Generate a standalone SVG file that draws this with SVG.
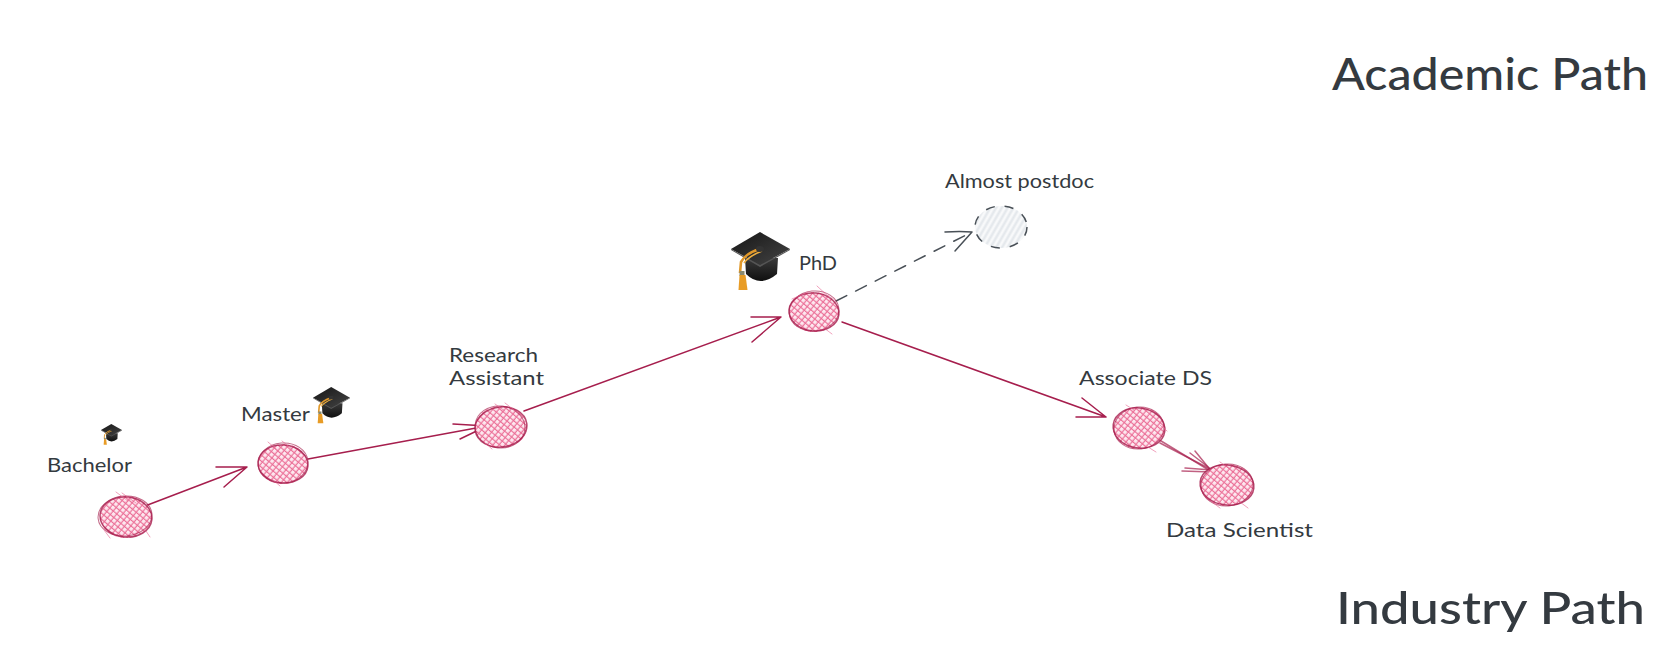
<svg xmlns="http://www.w3.org/2000/svg" width="1678" height="658" viewBox="0 0 1678 658">
<style>
text{font-family:"Lato","Noto Sans",sans-serif;fill:#343a40}
.title{font-size:44px;font-weight:500}
.label{font-size:19px}
.fill{fill:url(#hatch)}
.out{fill:none;stroke:#a61e4d;stroke-width:1.5;opacity:.8}
.out2{fill:none;stroke:#a61e4d;stroke-width:1;opacity:.65}
.over{fill:none;stroke:#e8638f;stroke-width:1;opacity:.6;stroke-linecap:round}
.a{fill:none;stroke:#a61e4d;stroke-width:1.5;stroke-linecap:round;stroke-linejoin:round}
.d{fill:none;stroke:#495057;stroke-width:1.5;stroke-linecap:round;stroke-linejoin:round}
</style>
<defs>
<pattern id="hatch" width="4.6" height="4.6" patternUnits="userSpaceOnUse" patternTransform="rotate(40)">
<rect width="4.6" height="4.6" fill="#fde8ef"/>
<path d="M0 1.2H4.6M1.2 0V4.6" stroke="#e64f80" stroke-width="1.15" fill="none" opacity=".8"/>
</pattern>
<pattern id="hatchGrey" width="5" height="5" patternUnits="userSpaceOnUse" patternTransform="rotate(-60)">
<rect width="5" height="5" fill="#f8f9fa"/>
<path d="M0 1.5H5" stroke="#e3e7eb" stroke-width="2.2" fill="none"/>
</pattern>
<linearGradient id="capTop" x1="0" y1="0" x2="1" y2="1">
<stop offset="0" stop-color="#161616"/><stop offset="1" stop-color="#444"/>
</linearGradient>
<linearGradient id="capBase" x1="0" y1="0" x2="0" y2="1">
<stop offset="0" stop-color="#3a3a3a"/><stop offset="1" stop-color="#0f0f0f"/>
</linearGradient>
<g id="hat">
<path d="M14 26L15 42Q29 56 46 42L47 26Z" fill="url(#capBase)"/>
<path d="M0 17L29 0L59 17L29 33Z" fill="url(#capTop)"/>
<path d="M0 17L29 33L59 17L59 18L29 35L0 18Z" fill="#555"/>
<path d="M29 17Q15 21 10 30L9 41" fill="none" stroke="#e0982a" stroke-width="2.6"/>
<path d="M31 19Q18 24 13 31" fill="none" stroke="#f0b040" stroke-width="1.6"/>
<ellipse cx="29" cy="17" rx="4" ry="3" fill="#333"/>
<rect x="8.500" y="39" width="5" height="5" fill="#8a8a70"/>
<path d="M8.500 43H14.500L16.500 58H7.500Z" fill="#e89c26"/>
</g>
</defs>

<g id="connectors">
<path class="a" d="M145 506L247 467M216 467L247 467L224 487"/>
<path class="a" d="M308 459L487 426M453 424L487 426L460 439"/>
<path class="a" d="M524 411L781 317M751 317L781 317L752 342"/>
<path class="d" stroke-dasharray="12 10" d="M836 301L972 232"/>
<path class="d" d="M945 232Q960 231 972 232L955 251"/>
<path class="a" d="M842 322L1106 417M1082 398L1106 417L1076 417"/>
<path class="a" opacity=".7" d="M1148 433L1212 472M1195 451L1212 472L1182 471"/>
<path class="a" opacity=".7" d="M1160 443L1212 470M1190 453L1212 470L1185 468"/>
</g>

<g id="node-bachelor">
<ellipse class="fill" cx="126" cy="517" rx="26" ry="21"/>
<ellipse class="out" cx="126" cy="517" rx="26" ry="20" transform="rotate(6 126 517)"/>
<ellipse class="out2" cx="125" cy="516" rx="27" ry="20" transform="rotate(-5 125 516)"/>
<path class="over" d="M116 492L128 501M122 493L136 503M146 531L150 537M104 530L110 538"/>
<use href="#hat" transform="translate(101 424) scale(.356)"/>
<text class="label" x="47" y="472" textLength="85" lengthAdjust="spacingAndGlyphs">Bachelor</text>
</g>
<g id="node-master">
<ellipse class="fill" cx="283" cy="464" rx="25" ry="20"/>
<ellipse class="out" cx="283" cy="464" rx="25" ry="19" transform="rotate(5 283 464)"/>
<ellipse class="out2" cx="283" cy="463" rx="25" ry="20" transform="rotate(-5 283 463)"/>
<path class="over" d="M268 442L276 449M282 441L292 449M272 479L280 486"/>
<use href="#hat" transform="translate(313 387) scale(.627)"/>
<text class="label" x="241" y="421" textLength="69" lengthAdjust="spacingAndGlyphs">Master</text>
</g>
<g id="node-research-assistant">
<ellipse class="fill" cx="501" cy="427" rx="26" ry="21"/>
<ellipse class="out" cx="501" cy="427" rx="26" ry="20" transform="rotate(-8 501 427)"/>
<ellipse class="out2" cx="500" cy="427" rx="25" ry="21" transform="rotate(6 500 427)"/>
<path class="over" d="M495 404L505 411M505 403L518 413M484 442L492 449"/>
<text class="label" x="449" y="362" textLength="89" lengthAdjust="spacingAndGlyphs">Research</text>
<text class="label" x="449" y="385" textLength="95" lengthAdjust="spacingAndGlyphs">Assistant</text>
</g>
<g id="node-phd">
<ellipse class="fill" cx="814" cy="312" rx="25" ry="20"/>
<ellipse class="out" cx="814" cy="312" rx="25" ry="19" transform="rotate(6 814 312)"/>
<ellipse class="out2" cx="814" cy="311" rx="25" ry="20" transform="rotate(-6 814 311)"/>
<path class="over" d="M817 286L830 298M792 299L808 292M824 328L832 334"/>
<use href="#hat" transform="translate(731 232)"/>
<text class="label" x="799" y="270" textLength="38" lengthAdjust="spacingAndGlyphs">PhD</text>
</g>
<g id="node-almost-postdoc">
<ellipse cx="1001" cy="227" rx="26" ry="21" fill="url(#hatchGrey)" stroke="#495057" stroke-width="1.5" stroke-dasharray="9 10"/>
<text class="label" x="945" y="188" textLength="149" lengthAdjust="spacingAndGlyphs">Almost postdoc</text>
</g>
<g id="node-associate-ds">
<ellipse class="fill" cx="1139" cy="428" rx="26" ry="21"/>
<ellipse class="out" cx="1139" cy="428" rx="26" ry="20" transform="rotate(8 1139 428)"/>
<ellipse class="out2" cx="1139" cy="428" rx="25" ry="21" transform="rotate(-6 1139 428)"/>
<path class="over" d="M1160 425L1167 431M1148 447L1156 452M1126 405L1134 410"/>
<text class="label" x="1079" y="385" textLength="133" lengthAdjust="spacingAndGlyphs">Associate DS</text>
</g>
<g id="node-data-scientist">
<ellipse class="fill" cx="1227" cy="485" rx="27" ry="21"/>
<ellipse class="out" cx="1227" cy="485" rx="27" ry="20" transform="rotate(7 1227 485)"/>
<ellipse class="out2" cx="1227" cy="485" rx="26" ry="21" transform="rotate(-5 1227 485)"/>
<path class="over" d="M1220 462L1230 469M1240 502L1248 508M1212 502L1220 508"/>
<text class="label" x="1166" y="537" textLength="147" lengthAdjust="spacingAndGlyphs">Data Scientist</text>
</g>
<text class="title" x="1332" y="90" textLength="316" lengthAdjust="spacingAndGlyphs">Academic Path</text>
<text class="title" x="1336" y="624" textLength="309" lengthAdjust="spacingAndGlyphs">Industry Path</text>
</svg>
